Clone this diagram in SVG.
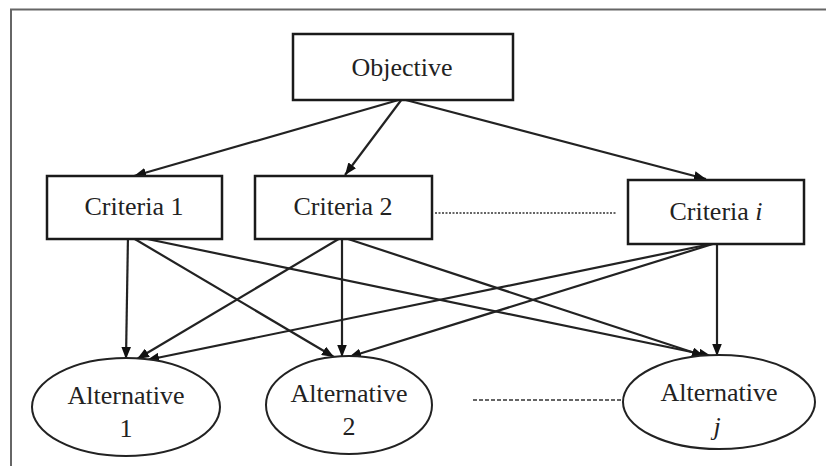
<svg xmlns="http://www.w3.org/2000/svg" width="826" height="466" viewBox="0 0 826 466">
<style>
.box{fill:#fff;stroke:#1a1a1a;stroke-width:2.5}
.ell{fill:#fff;stroke:#222;stroke-width:2}
.t{font-family:"Liberation Serif","Times New Roman",serif;font-size:26px;fill:#222;text-anchor:middle}
.c{stroke:#222;stroke-width:2.2;fill:none;marker-end:url(#ah)}
.dot{stroke:#333;stroke-width:1.5;stroke-dasharray:2 1.5;fill:none}
.dash{stroke:#333;stroke-width:1.5;stroke-dasharray:4 2;fill:none}
</style>
<defs>
<marker id="ah" viewBox="0 0 10 8" refX="10" refY="4" markerWidth="5.5" markerHeight="4.4" orient="auto" markerUnits="strokeWidth">
<path d="M0,0 L10,4 L0,8 z" fill="#111"/>
</marker>
</defs>
<rect width="826" height="466" fill="#fff"/>
<path d="M11,466 V9.5 H826" fill="none" stroke="#666" stroke-width="2"/>
<g id="connectors">
<line class="c" x1="402" y1="99" x2="134" y2="176"/>
<line class="c" x1="402" y1="99" x2="345" y2="175"/>
<line class="c" x1="402" y1="99" x2="706" y2="179"/>
<line class="c" x1="128" y1="235" x2="126" y2="359"/>
<line class="c" x1="128" y1="235" x2="334" y2="357"/>
<line class="c" x1="128" y1="235" x2="711" y2="356"/>
<line class="c" x1="342" y1="237" x2="137" y2="359"/>
<line class="c" x1="342" y1="237" x2="342" y2="357"/>
<line class="c" x1="342" y1="237" x2="704" y2="356"/>
<line class="c" x1="716" y1="243" x2="147" y2="360"/>
<line class="c" x1="716" y1="243" x2="349" y2="357"/>
<line class="c" x1="717" y1="243" x2="717" y2="356"/>
<line class="dot" x1="435" y1="213" x2="617" y2="213"/>
<line class="dash" x1="473" y1="400" x2="621" y2="400"/>
</g>
<g id="objective">
<rect class="box" x="293" y="34" width="220" height="66"/>
<text class="t" x="402" y="76">Objective</text>
</g>
<g id="criteria1">
<rect class="box" x="47" y="176" width="175" height="63"/>
<text class="t" x="134" y="215">Criteria 1</text>
</g>
<g id="criteria2">
<rect class="box" x="255" y="176" width="177" height="63"/>
<text class="t" x="343" y="215">Criteria 2</text>
</g>
<g id="criteriai">
<rect class="box" x="628" y="180" width="176" height="64"/>
<text class="t" x="716" y="220">Criteria <tspan font-style="italic">i</tspan></text>
</g>
<g id="alt1">
<ellipse class="ell" cx="126" cy="407" rx="94" ry="49"/>
<text class="t" x="126" y="404">Alternative</text>
<text class="t" x="126" y="437">1</text>
</g>
<g id="alt2">
<ellipse class="ell" cx="349" cy="405" rx="83" ry="49"/>
<text class="t" x="349" y="402">Alternative</text>
<text class="t" x="349" y="435">2</text>
</g>
<g id="altj">
<ellipse class="ell" cx="719" cy="402" rx="96" ry="47"/>
<text class="t" x="719" y="401">Alternative</text>
<text class="t" x="717" y="435" font-style="italic">j</text>
</g>
</svg>
